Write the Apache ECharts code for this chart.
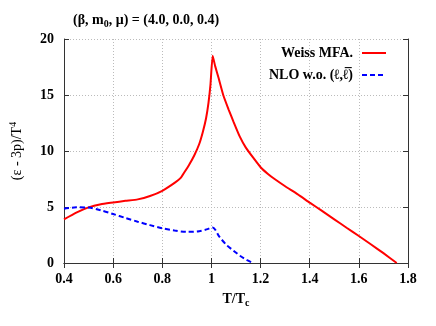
<!DOCTYPE html>
<html>
<head>
<meta charset="utf-8">
<script src="https://cdn.jsdelivr.net/npm/echarts@6/dist/echarts.min.js"></script>
<style>html,body{margin:0;padding:0;background:#fff;}#c{width:436px;height:326px;}</style>
</head>
<body>
<div id="c"></div>
<script>
// Weiss MFA. (red)
var weissT = [0.4,0.45,0.5,0.55,0.6,0.65,0.7,0.75,0.8,0.85,0.875,0.89,0.91,0.93,0.95,0.965,0.978,0.988,0.996,1.005,1.015,1.028,1.048,1.07,1.09,1.115,1.14,1.17,1.2,1.23,1.26,1.3,1.35,1.4,1.45,1.5,1.55,1.6,1.65,1.7,1.754];
var weissV = [3.9,4.5,4.97,5.25,5.4,5.55,5.68,5.98,6.45,7.15,7.6,8.1,8.8,9.6,10.6,11.7,12.9,14.3,15.9,18.5,17.6,16.6,15.0,13.7,12.6,11.3,10.3,9.4,8.55,7.95,7.45,6.85,6.15,5.39,4.65,3.9,3.15,2.41,1.65,0.88,0];
// NLO w.o. (l, lbar) (blue dashed)
var nloT = [0.4,0.45,0.5,0.55,0.6,0.65,0.7,0.75,0.8,0.85,0.9,0.95,0.98,1.005,1.032,1.062,1.09,1.116,1.145,1.17];
var nloV = [4.85,4.97,4.95,4.7,4.37,4.02,3.69,3.38,3.1,2.9,2.78,2.84,3.0,3.17,2.35,1.6,1.1,0.65,0.25,0];
var xTicks = [0.4,0.6,0.8,1.0,1.2,1.4,1.6,1.8];
var yTicks = [0,5,10,15,20];

function pairs(a,b){return a.map(function(v,i){return [v,b[i]];});}
var font = '"Liberation Serif","DejaVu Serif",serif';
var chart = echarts.init(document.getElementById('c'), null, {renderer:'canvas'});
var axLine = {show:true, lineStyle:{color:'#333', width:1}};
var tick = {show:true, inside:true, length:5, lineStyle:{color:'#333', width:1}};
chart.setOption({
  animation:false,
  backgroundColor:'#fff',
  title:{
    text:'{a|(β, m}{s|0}{a|, μ) = (4.0, 0.0, 0.4)}',
    left:68, top:6,
    textStyle:{rich:{
      a:{fontFamily:font, fontWeight:'bold', fontSize:14, color:'#000'},
      s:{fontFamily:font, fontWeight:'bold', fontSize:10, color:'#000', padding:[8,0,0,0]}
    }}
  },
  legend:{
    orient:'vertical', right:44, top:41, align:'right',
    itemWidth:24, itemHeight:14, itemGap:8,
    itemStyle:{opacity:0},
    textStyle:{fontFamily:font, fontWeight:'bold', fontSize:14, color:'#000', padding:[0,4,0,0]},
    data:['Weiss MFA.','NLO w.o. (ℓ,ℓ\u0305)']
  },
  grid:{left:64, right:28, top:39, bottom:63, show:false},
  xAxis:[{
    type:'value', min:0.4, max:1.8, interval:0.2, position:'bottom',
    name:'{a|T/T}{s|c}', nameLocation:'middle', nameGap:27,
    nameTextStyle:{rich:{
      a:{fontFamily:font, fontWeight:'bold', fontSize:14, color:'#000'},
      s:{fontFamily:font, fontWeight:'bold', fontSize:10, color:'#000', padding:[8,0,0,0]}
    }},
    axisLine:axLine, axisTick:tick,
    axisLabel:{fontFamily:font, fontWeight:'bold', fontSize:14, color:'#000', margin:9,
      formatter:function(v){var r=Math.round(v*10)/10; return xTicks.indexOf(r)>=0 ? String(r) : '';}},
    splitLine:{show:true, lineStyle:{color:'#bbb', type:[1,2], width:1}}
  },{
    type:'value', min:0.4, max:1.8, interval:0.2, position:'top',
    axisLine:axLine, axisTick:tick, axisLabel:{show:false}, splitLine:{show:false}
  }],
  yAxis:[{
    type:'value', min:0, max:20, interval:5, position:'left',
    name:'{a|(ε - 3p)/T}{p|4}', nameLocation:'middle', nameGap:38, nameRotate:90,
    nameTextStyle:{rich:{
      a:{fontFamily:font, fontSize:14, color:'#000'},
      p:{fontFamily:font, fontSize:10, color:'#000', padding:[0,0,8,0]}
    }},
    axisLine:axLine, axisTick:tick,
    axisLabel:{fontFamily:font, fontWeight:'bold', fontSize:14, color:'#000', margin:10,
      formatter:function(v){return yTicks.indexOf(v)>=0 ? String(v) : '';}},
    splitLine:{show:true, lineStyle:{color:'#bbb', type:[1,2], width:1}}
  },{
    type:'value', min:0, max:20, interval:5, position:'right',
    axisLine:axLine, axisTick:tick, axisLabel:{show:false}, splitLine:{show:false}
  }],
  series:[{
    name:'Weiss MFA.', type:'line', xAxisIndex:0, yAxisIndex:0,
    data:pairs(weissT, weissV), symbol:'none', smooth:0.15,
    lineStyle:{color:'#ff0000', width:2}, itemStyle:{color:'#ff0000'}
  },{
    name:'NLO w.o. (ℓ,ℓ\u0305)', type:'line', xAxisIndex:0, yAxisIndex:0,
    data:pairs(nloT, nloV), symbol:'none', smooth:0.3,
    lineStyle:{color:'#0000ff', width:2, type:[5,3]}, itemStyle:{color:'#0000ff'}
  }]
});
</script>
</body>
</html>
